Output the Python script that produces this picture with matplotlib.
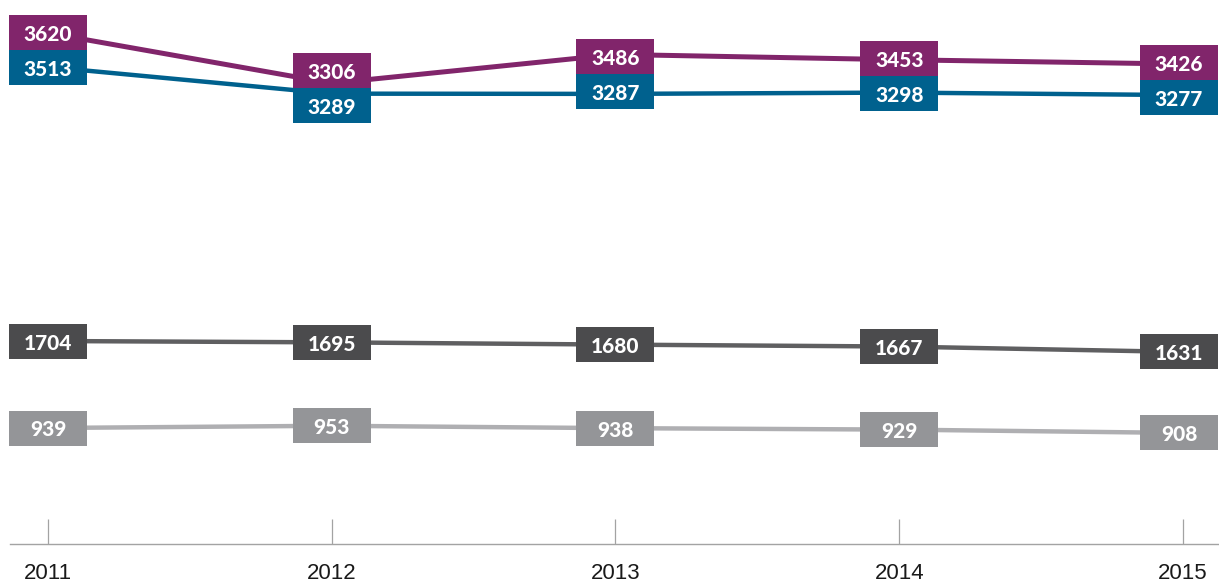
import numpy as np
import matplotlib
matplotlib.use("Agg")
import matplotlib.pyplot as plt
from matplotlib.patches import Rectangle

# ---- data ----
years = ["2011", "2012", "2013", "2014", "2015"]
purple_vals = [3620, 3306, 3486, 3453, 3426]
blue_vals = [3513, 3289, 3287, 3298, 3277]
dark_vals = [1704, 1695, 1680, 1667, 1631]
light_vals = [939, 953, 938, 929, 908]

# ---- layout / style ----
W, H = 1219, 585
fig = plt.figure(figsize=(W / 100, H / 100), dpi=100)
rect = [10 / W, 41 / H, 1209 / W, 544 / H]
XLIM = (-0.134, 4.127)
x = np.arange(len(years))

ax0 = fig.add_axes(rect)
ax0.set_xlim(*XLIM)
ax0.set_ylim(0, 1)
for s in ["top", "left", "right"]:
    ax0.spines[s].set_visible(False)
ax0.spines["bottom"].set_color("#a3a3a3")
ax0.spines["bottom"].set_linewidth(1.0)
ax0.set_yticks([])
ax0.set_xticks(x, years)
ax0.tick_params(axis="x", direction="in", length=18, width=0.9, color="#a3a3a3",
                pad=14, labelsize=16, labelcolor="#1a1a1a")
for lab in ax0.get_xticklabels():
    lab.set_fontfamily(["Liberation Sans Narrow", "Liberation Sans"])
ax0.patch.set_visible(False)

# each series on its own transparent axes (the original uses per-series scales)
series = [
    # values, line colour, box colour, line width, ylim
    (purple_vals, "#81256b", "#81256b", 3.6, (426.25, 3826.25)),
    (blue_vals, "#00618e", "#00618e", 3.2, (-495.4, 4076.0)),
    (dark_vals, "#5f5f61", "#4b4b4d", 3.2, (350.7, 3977.3)),
    (light_vals, "#afafb2", "#949598", 3.2, (214.0, 3614.0)),
]

pts = []
for vals, lc, bc, lw, ylim in series:
    ax = fig.add_axes(rect)
    ax.set_xlim(*XLIM)
    ax.set_ylim(*ylim)
    ax.plot(x, vals, color=lc, lw=lw, solid_capstyle="butt", zorder=1)
    ax.axis("off")
    pts.append(ax.transData.transform(np.column_stack([x, vals])))

BW, BH = 78, 35


def box(cx, cy, val, color):
    cx = min(max(cx, BW / 2 + 8), W - BW / 2 - 1)
    fig.add_artist(Rectangle(((cx - BW / 2) / W, (cy - BH / 2) / H), BW / W, BH / H,
                             facecolor=color, edgecolor="none", zorder=5))
    fig.text(cx / W, cy / H - 0.5 / H, str(val), ha="center", va="center_baseline",
             color="white", fontsize=15, fontweight="black", family="Lato", zorder=6)


# purple / blue boxes stacked around midpoint of the two points
pp, pb = pts[0], pts[1]
for i in range(len(x)):
    mid = (pp[i, 1] + pb[i, 1]) / 2
    box(pp[i, 0], mid + BH / 2, purple_vals[i], series[0][2])
    box(pb[i, 0], mid - BH / 2, blue_vals[i], series[1][2])

for k, vals in ((2, dark_vals), (3, light_vals)):
    p = pts[k]
    for i in range(len(x)):
        box(p[i, 0], p[i, 1], vals[i], series[k][2])

fig.savefig("out.png", dpi=100)
